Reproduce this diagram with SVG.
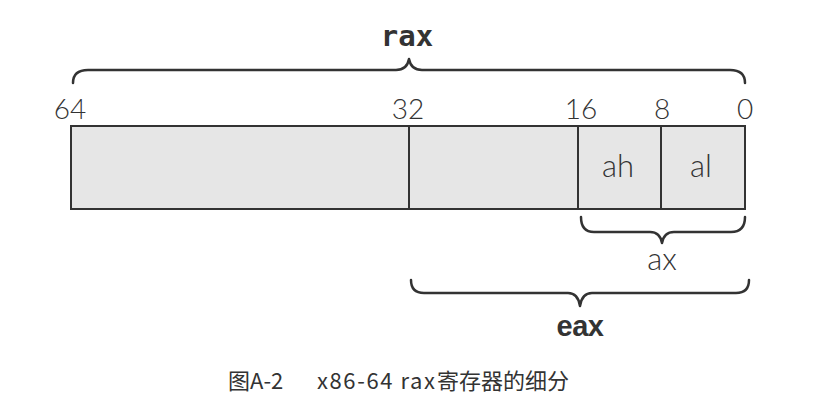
<svg xmlns="http://www.w3.org/2000/svg" width="829" height="411" viewBox="0 0 829 411">
<style>
.cell{fill:#e6e6e6;stroke:#333;stroke-width:2}
.div{stroke:#333;stroke-width:2}
.brace{fill:none;stroke:#333;stroke-width:2.5;stroke-linecap:round;stroke-linejoin:round}
.lt{font-family:Lato,"DejaVu Sans",sans-serif;font-weight:300;font-size:28px;fill:#333;text-anchor:middle}
.lbl{font-size:31px}
.mono{font-family:"DejaVu Sans Mono","Liberation Mono",monospace;font-weight:bold;font-size:29px;fill:#333;text-anchor:middle}
.bold{font-family:"Liberation Sans",Arial,sans-serif;font-weight:bold;font-size:29px;fill:#333;text-anchor:middle;letter-spacing:-0.5px}
.cap{font-family:"Noto Sans CJK SC","Noto Sans",sans-serif;font-size:22px;fill:#333}
</style>
<rect width="829" height="411" fill="#fff"/>
<g id="register">
<rect class="cell" x="71" y="126" width="674" height="83"/>
<line class="div" x1="409" y1="126" x2="409" y2="209"/>
<line class="div" x1="578" y1="126" x2="578" y2="209"/>
<line class="div" x1="661" y1="126" x2="661" y2="209"/>
</g>
<g id="bits">
<text class="lt" x="70" y="119">64</text>
<text class="lt" x="408" y="119">32</text>
<text class="lt" x="581" y="119">16</text>
<text class="lt" x="662" y="119">8</text>
<text class="lt" x="745" y="119">0</text>
</g>
<g id="ah"><text class="lt lbl" x="618" y="177">ah</text></g>
<g id="al"><text class="lt lbl" x="701" y="177">al</text></g>
<g id="connectors">
<path class="brace" d="M73,83 Q73,70 88,70 H396 Q407,70 409,59 Q411,70 422,70 H730 Q745,70 745,83"/>
<path class="brace" d="M581,217 Q581,232 594,232 H650 Q660,232 662,243 Q664,232 674,232 H731 Q745,232 745,217"/>
<path class="brace" d="M411,280 Q411,293 424,293 H568 Q578,293 580,306 Q582,293 592,293 H736 Q749,293 749,280"/>
</g>
<g id="rax"><text class="mono" x="407" y="46">rax</text></g>
<g id="ax"><text class="lt lbl" x="662" y="270">ax</text></g>
<g id="eax"><text class="bold" x="580" y="336">eax</text></g>
<g id="caption"><text class="cap" y="389"><tspan x="228">图A-2</tspan><tspan x="317" textLength="118" lengthAdjust="spacing">x86-64 rax</tspan><tspan x="437">寄存器的细分</tspan></text></g>
</svg>
